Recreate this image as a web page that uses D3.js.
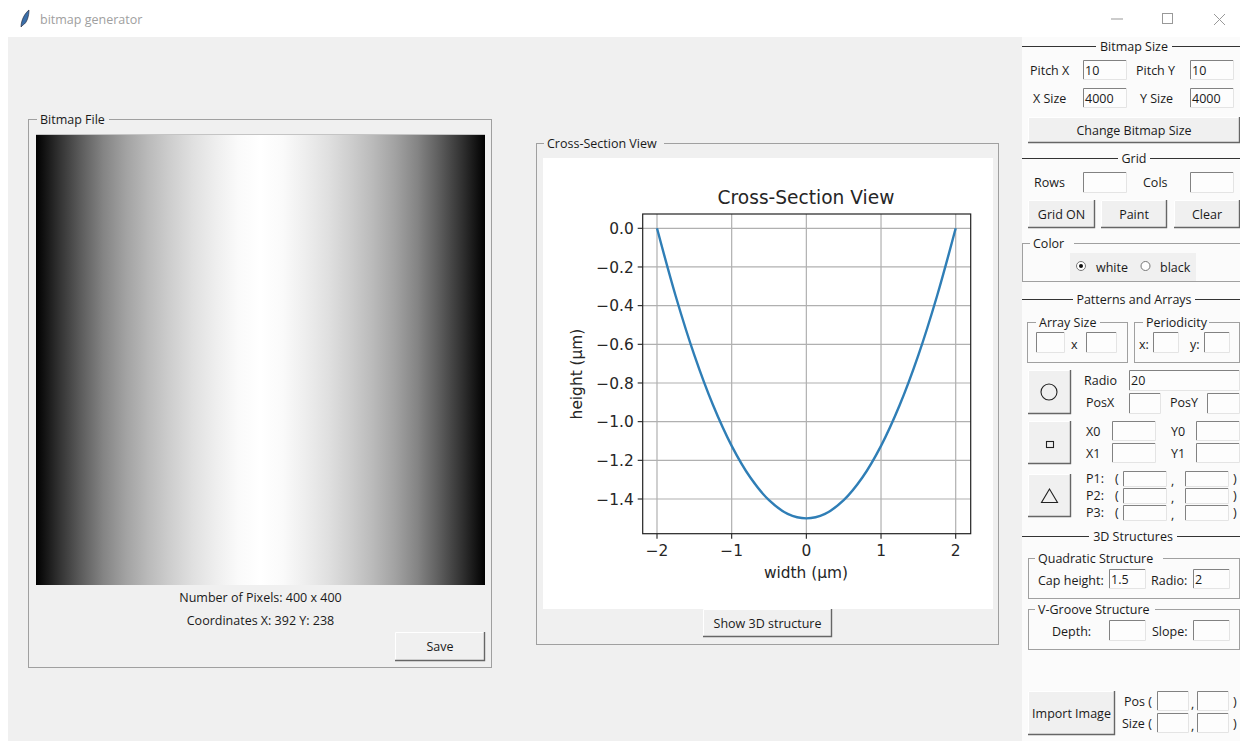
<!DOCTYPE html>
<html><head><meta charset="utf-8">
<script src="https://cdn.jsdelivr.net/npm/d3@7/dist/d3.min.js"></script>
<style>html,body{margin:0;padding:0;background:#fff;overflow:hidden}svg{display:block}
.ui{font-family:"Open Sans","Noto Sans",sans-serif;font-size:12.5px;fill:#1a1a1a}
.mpl{font-family:"DejaVu Sans",sans-serif;fill:#262626}
</style></head><body><svg id="s" width="1240" height="741"></svg>
<script>
// ----- data -----
const curveWidth = [-2,-1.75,-1.5,-1.25,-1,-0.75,-0.5,-0.25,0,0.25,0.5,0.75,1,1.25,1.5,1.75,2];
const curveHeight = [0,-0.35,-0.656,-0.914,-1.125,-1.289,-1.406,-1.477,-1.5,-1.477,-1.406,-1.289,-1.125,-0.914,-0.656,-0.35,0];
const xTicks = [-2,-1,0,1,2];
const yTicks = [0,-0.2,-0.4,-0.6,-0.8,-1.0,-1.2,-1.4];
const bitmapCols = [0,0.05,0.1,0.15,0.2,0.25,0.3,0.35,0.4,0.45,0.5,0.55,0.6,0.65,0.7,0.75,0.8,0.85,0.9,0.95,1];
const bitmapGray = [0,48,92,132,162,186,206,224,238,250,255,250,238,224,206,186,162,132,92,48,0];

const svg = d3.select("#s");
const BG="#f0f0f0";
const COL="#fbfbfb";
let labelBg=BG;
const rect=(x,y,w,h,f)=>svg.append("rect").attr("x",x).attr("y",y).attr("width",w).attr("height",h).attr("fill",f);
const line=(a,b,c,d,col,sw=1)=>svg.append("line").attr("x1",a).attr("y1",b).attr("x2",c).attr("y2",d).attr("stroke",col).attr("stroke-width",sw);
const txt=(x,y,t,o={})=>svg.append("text").attr("class","ui").attr("x",x).attr("y",y).attr("text-anchor",o.a||"start").style("fill",o.c||null).text(t);

// window
rect(0,0,1240,741,"#fff");
rect(8,37,1014,704,BG);
rect(1022,37,218,704,COL);
// titlebar
svg.append("path").attr("d","M21 27 C21 20 25 13 29 10 C29 16 27 23 23 25 L21 27Z").attr("fill","#3a6ea8").attr("stroke","#223").attr("stroke-width",.6);
txt(40,24,"bitmap generator",{c:"#a0a0a0"});
line(1111,19,1123,19,"#999");
svg.append("rect").attr("x",1162.5).attr("y",13.5).attr("width",10).attr("height",10).attr("fill","none").attr("stroke","#999");
line(1214,14,1225,25,"#999");line(1225,14,1214,25,"#999");

function frame(x,y,w,h,label,lx,lw){
  svg.append("rect").attr("x",x+.5).attr("y",y+.5).attr("width",w).attr("height",h).attr("fill","none").attr("stroke","#a0a0a0");
  rect(lx-3,y-6,lw+6,12,labelBg);
  txt(lx,y+4.5,label);
}
function entry(x,y,w,h,v){
  rect(x,y,w,h,"#fdfdfd");
  svg.append("path").attr("d",`M${x+.5} ${y+h}V${y+.5}H${x+w}`).attr("fill","none").attr("stroke","#828282");
  svg.append("path").attr("d",`M${x+w-.5} ${y}V${y+h-.5}H${x}`).attr("fill","none").attr("stroke","#e4e4e4");
  if(v) txt(x+2,y+h/2+4.5,v);
}
function button(x,y,w,h,t){
  rect(x,y,w,h,BG);
  svg.append("path").attr("d",`M${x+.5} ${y+h}V${y+.5}H${x+w}`).attr("fill","none").attr("stroke","#fff");
  svg.append("path").attr("d",`M${x+w-.5} ${y}V${y+h-.5}H${x}`).attr("fill","none").attr("stroke","#666").attr("stroke-width",1.4);
  if(t) txt(x+w/2,y+h/2+4.5,t,{a:"middle"});
}
function sep(y,label,x1,x2){
  line(1022,y+.5,x1,y+.5,"#333");line(x2,y+.5,1240,y+.5,"#333");
  txt((x1+x2)/2,y+4.5,label,{a:"middle"});
}

// Bitmap file panel
frame(28,119,463,548,"Bitmap File",40,66);
const defs=svg.append("defs");
const xBitmap=d3.scaleLinear().domain([0,1]).range([36,485]);
const g=defs.append("linearGradient").attr("id","bm");
bitmapCols.forEach((c,i)=>g.append("stop").attr("offset",c).attr("stop-color",d3.rgb(bitmapGray[i],bitmapGray[i],bitmapGray[i])));
rect(xBitmap(0),135,xBitmap(1)-xBitmap(0),450,"url(#bm)");
line(36,134.5,485,134.5,"#c4c4c4");
txt(260.5,602,"Number of Pixels: 400 x 400",{a:"middle"});
txt(260.5,625,"Coordinates X: 392 Y: 238",{a:"middle"});
button(395,632,90,29,"Save");

// Cross-section panel
frame(536,143,462,501,"Cross-Section View",547,114);
rect(543,158,450,451,"#fff");
const x=d3.scaleLinear().domain([-2,2]).range([657,955.7]);
const y=d3.scaleLinear().domain([0,-1.4]).range([228.3,499]);
const L=642.7,R=970.7,T=214,B=533.7;
const ax=svg.append("g").attr("class","mpl");
xTicks.forEach(t=>{
  ax.append("line").attr("x1",x(t)).attr("x2",x(t)).attr("y1",T).attr("y2",B).attr("stroke","#b0b0b0").attr("stroke-width",1.2);
  ax.append("line").attr("x1",x(t)).attr("x2",x(t)).attr("y1",B).attr("y2",B+5).attr("stroke","#222").attr("stroke-width",1.1);
  ax.append("text").attr("class","mpl").attr("x",x(t)).attr("y",B+22).attr("text-anchor","middle").attr("font-size",15.4).text(t<0?"\u2212"+(-t):t);
});
yTicks.forEach(t=>{
  ax.append("line").attr("x1",L).attr("x2",R).attr("y1",y(t)).attr("y2",y(t)).attr("stroke","#b0b0b0").attr("stroke-width",1.2);
  ax.append("line").attr("x1",L-5).attr("x2",L).attr("y1",y(t)).attr("y2",y(t)).attr("stroke","#222").attr("stroke-width",1.1);
  ax.append("text").attr("class","mpl").attr("x",L-9).attr("y",y(t)+5.6).attr("text-anchor","end").attr("font-size",15.4).text(t<0?"\u2212"+(-t).toFixed(1):t.toFixed(1));
});
const lineGen=d3.line().x((d,i)=>x(curveWidth[i])).y(d=>y(d)).curve(d3.curveCatmullRom.alpha(0.5));
ax.append("path").attr("d",lineGen(curveHeight)).attr("fill","none").attr("stroke","#2f7eb6").attr("stroke-width",2.4);
ax.append("rect").attr("x",L).attr("y",T).attr("width",R-L).attr("height",B-T).attr("fill","none").attr("stroke","#222").attr("stroke-width",1.2);
ax.append("text").attr("class","mpl").attr("x",806).attr("y",204).attr("text-anchor","middle").attr("font-size",18.6).text("Cross-Section View");
ax.append("text").attr("class","mpl").attr("x",806).attr("y",578).attr("text-anchor","middle").attr("font-size",15.4).text("width (µm)");
ax.append("text").attr("class","mpl").attr("transform","translate(582,374) rotate(-90)").attr("text-anchor","middle").attr("font-size",15.4).text("height (µm)");
button(703,609,129,28,"Show 3D structure");

// Right column
labelBg=COL;
sep(46,"Bitmap Size",1096,1172);
txt(1030,75,"Pitch X");entry(1083,60,44,20,"10");
txt(1136,75,"Pitch Y");entry(1190,60,44,20,"10");
txt(1033,103,"X Size");entry(1083,88,44,20,"4000");
txt(1140,103,"Y Size");entry(1190,88,44,20,"4000");
button(1028,117,212,26,"Change Bitmap Size");

sep(158,"Grid",1118,1150);
txt(1034,187,"Rows");entry(1083,172,44,21);
txt(1143,187,"Cols");entry(1190,172,44,21);
button(1028,200,67,28,"Grid ON");button(1101,200,66,28,"Paint");button(1174,200,66,28,"Clear");

svg.append("rect").attr("x",1022.5).attr("y",243.5).attr("width",230).attr("height",38).attr("fill","none").attr("stroke","#a0a0a0");
rect(1030,238,44,12,COL);txt(1033,248,"Color");
rect(1070,253,126,28,BG);
svg.append("circle").attr("cx",1081).attr("cy",266).attr("r",4.5).attr("fill","#fff").attr("stroke","#777");
svg.append("circle").attr("cx",1081).attr("cy",266).attr("r",2).attr("fill","#111");
txt(1096,272,"white");
svg.append("circle").attr("cx",1145.5).attr("cy",266).attr("r",4.5).attr("fill","#fff").attr("stroke","#777");
txt(1160,272,"black");

sep(299,"Patterns and Arrays",1073,1195);
frame(1027,322,100,40,"Array Size",1039,58);
entry(1036,332,29,21);txt(1071,349,"x");entry(1086,332,31,21);
frame(1134,322,105,40,"Periodicity",1146,60);
txt(1139,349,"x:");entry(1153,332,26,21);txt(1190,349,"y:");entry(1204,332,26,21);

button(1028,370,43,44);
svg.append("circle").attr("cx",1049).attr("cy",392).attr("r",8).attr("fill","none").attr("stroke","#222").attr("stroke-width",1.1);
txt(1084,385,"Radio");entry(1129,370,111,21,"20");
txt(1086,407,"PosX");entry(1129,393,32,21);
txt(1170,407,"PosY");entry(1207,393,33,21);

button(1028,421,43,43);
svg.append("rect").attr("x",1046.5).attr("y",441.5).attr("width",7).attr("height",6).attr("fill","none").attr("stroke","#222").attr("stroke-width",1.1);
txt(1086,436,"X0");entry(1112,421,44,20);
txt(1171,436,"Y0");entry(1196,421,44,20);
txt(1086,458,"X1");entry(1112,443,44,20);
txt(1171,458,"Y1");entry(1196,443,44,20);

button(1028,474,43,43);
svg.append("path").attr("d","M1049.5 489 L1041.5 502.5 H1057.5 Z").attr("fill","none").attr("stroke","#222").attr("stroke-width",1.1);
[["P1:",471,485],["P2:",488,502],["P3:",505,519]].forEach(([l,ey,ty])=>{
  txt(1086,ty-2,l);txt(1115,ty-2,"(");entry(1123,ey,44,16);
  txt(1171,ty,",");entry(1185,ey,44,16);txt(1233,ty-2,")");
});

sep(536,"3D Structures",1089,1177);
frame(1028,558,211,40,"Quadratic Structure",1038,122);
txt(1038,585,"Cap height:");entry(1109,569,37,20,"1.5");
txt(1151,585,"Radio:");entry(1193,569,37,20,"2");
frame(1028,609,211,40,"V-Groove Structure",1038,114);
txt(1052,636,"Depth:");entry(1109,620,37,21);
txt(1152,636,"Slope:");entry(1193,620,37,21);

button(1028,691,87,44,"Import Image");
txt(1124,706,"Pos (");entry(1157,691,32,20);txt(1191,708,",");entry(1197,691,32,20);txt(1233,706,")");
txt(1122,728,"Size (");entry(1157,713,32,20);txt(1191,730,",");entry(1197,713,32,20);txt(1233,728,")");
</script></body></html>
